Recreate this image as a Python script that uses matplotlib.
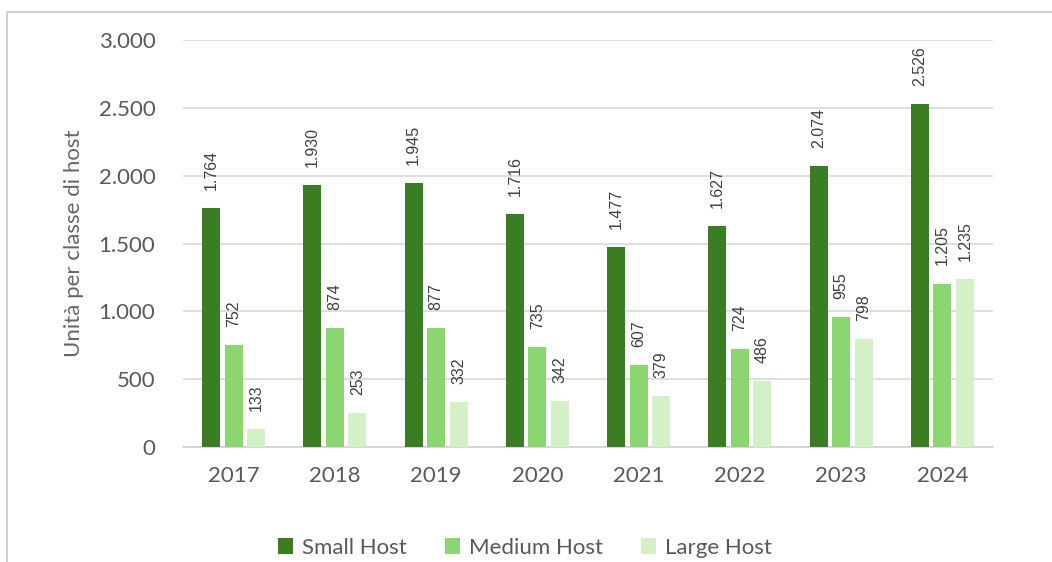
import matplotlib
matplotlib.use('Agg')
import matplotlib.pyplot as plt
import numpy as np
from matplotlib.patches import Rectangle

years = ['2017', '2018', '2019', '2020', '2021', '2022', '2023', '2024']
small_host = [1764, 1930, 1945, 1716, 1477, 1627, 2074, 2526]
medium_host = [752, 874, 877, 735, 607, 724, 955, 1205]
large_host = [133, 253, 332, 342, 379, 486, 798, 1235]
series_names = ['Small Host', 'Medium Host', 'Large Host']
colors = ['#3b7d23', '#8cd672', '#d3f0c6']


def fmt_it(v):
    # thousands separator with a dot, italian style
    return '{:,}'.format(v).replace(',', '.')


plt.rcParams['font.family'] = ['Lato', 'DejaVu Sans']

fig = plt.figure(figsize=(10.52, 5.62), dpi=100)
ax = fig.add_axes([0.174, 0.2046, 0.770, 0.7242])

# thin frame around the chart area
fig.patches.append(Rectangle((7 / 1052, -0.1), 1.2, 0.1 + (562 - 12) / 562,
                             transform=fig.transFigure, fill=False,
                             edgecolor='#c8c8c8', linewidth=1.2))

x = np.arange(len(years))
w = 0.178
step = 0.222
all_series = [small_host, medium_host, large_host]
for i, vals in enumerate(all_series):
    pos = x + (i - 1) * step
    bars = ax.bar(pos, vals, width=w, color=colors[i], label=series_names[i], zorder=3)
    for b, v in zip(bars, vals):
        ax.annotate(fmt_it(v), (b.get_x() + b.get_width() / 2, v),
                    xytext=(0, 13), textcoords='offset points',
                    rotation=90, ha='center', va='bottom',
                    fontsize=11.5, color='#404040', family='Liberation Sans')

ax.set_xlim(-0.5, len(years) - 0.5)
ax.set_ylim(0, 3000)
ax.set_yticks(range(0, 3001, 500))
ax.set_yticklabels([fmt_it(v) for v in range(0, 3001, 500)])
ax.set_xticks(x)
ax.set_xticklabels(years)
ax.tick_params(axis='y', length=0, pad=20, labelsize=16, labelcolor='#595959')
ax.tick_params(axis='x', length=0, pad=14, labelsize=16, labelcolor='#595959')
ax.grid(axis='y', color='#d9d9d9', linewidth=1.2, zorder=0)
for s in ['top', 'right', 'left']:
    ax.spines[s].set_visible(False)
ax.spines['bottom'].set_color('#d0d0d0')
ax.spines['bottom'].set_linewidth(1.2)

ax.set_ylabel('Unità per classe di host', fontsize=16, color='#666666')
ax.yaxis.set_label_coords(-0.122, 0.5)

fig.legend(loc='center', bbox_to_anchor=(0.499, 0.025), ncol=3, frameon=False,
           fontsize=16, labelcolor='#595959', handlelength=0.7, handleheight=0.7,
           handletextpad=0.4, columnspacing=1.7)

fig.savefig('out.png', dpi=100, facecolor='white')
